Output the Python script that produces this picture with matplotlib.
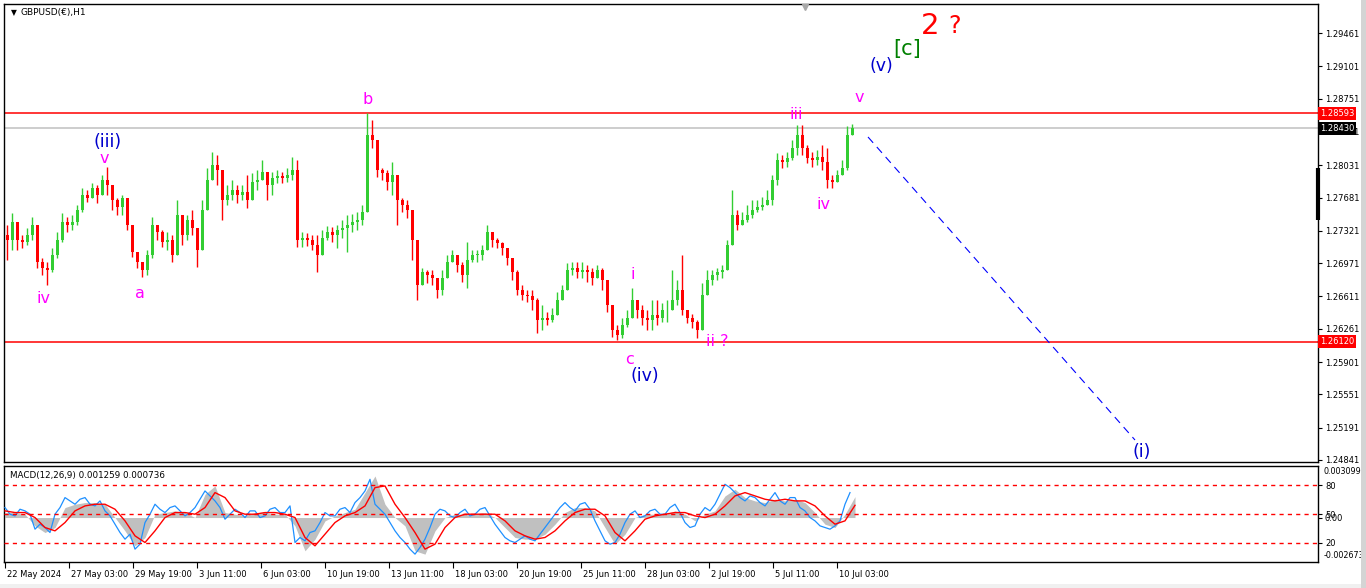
import matplotlib
matplotlib.use('Agg')
import matplotlib.pyplot as plt
import matplotlib.transforms as mtransforms
from matplotlib.patches import Rectangle
import numpy as np

plt.rcParams['font.family'] = ['DejaVu Sans']

W, H, DPI = 1366, 588, 100

# ---------------- data ----------------
symbol_title = "GBPUSD(€),H1"
first_open = 1.2728
close = [1.2722, 1.2742, 1.2722, 1.2720, 1.2728, 1.2738, 1.2698, 1.2692, 1.2690, 1.2706,
         1.2722, 1.2742, 1.2738, 1.2742, 1.2755, 1.2771, 1.2768, 1.2778, 1.2771, 1.2787,
         1.2782, 1.2765, 1.2758, 1.2768, 1.2738, 1.2709, 1.2698, 1.2690, 1.2706, 1.2738,
         1.2731, 1.2720, 1.2722, 1.2706, 1.2749, 1.2728, 1.2744, 1.2735, 1.2711, 1.2755,
         1.2787, 1.2803, 1.2798, 1.2765, 1.2771, 1.2776, 1.2771, 1.2774, 1.2765, 1.2785,
         1.2787, 1.2796, 1.2782, 1.2789, 1.2791, 1.2789, 1.2792, 1.2798, 1.2722, 1.2724,
         1.2722, 1.2717, 1.2706, 1.2724, 1.2731, 1.2728, 1.2733, 1.2735, 1.2738, 1.2742,
         1.2744, 1.2752, 1.2836, 1.2830, 1.2798, 1.2795, 1.2785, 1.2792, 1.2765, 1.2760,
         1.2755, 1.2722, 1.2673, 1.2687, 1.2684, 1.2681, 1.2668, 1.2681, 1.2698, 1.2706,
         1.2695, 1.2684, 1.2700, 1.2706, 1.2706, 1.2711, 1.2731, 1.2722, 1.2719, 1.2713,
         1.2703, 1.2687, 1.2668, 1.2663, 1.2662, 1.2657, 1.2636, 1.2638, 1.2636, 1.2641,
         1.2657, 1.2668, 1.2690, 1.2692, 1.2687, 1.2690, 1.2687, 1.2681, 1.2690, 1.2679,
         1.2652, 1.2625, 1.2619, 1.2630, 1.2638, 1.2657, 1.2646, 1.2638, 1.2636, 1.2641,
         1.2638, 1.2646, 1.2646, 1.2657, 1.2668, 1.2646, 1.2638, 1.2633, 1.2625, 1.2663,
         1.2679, 1.2684, 1.2687, 1.2690, 1.2717, 1.2749, 1.2738, 1.2744, 1.2749, 1.2755,
         1.2758, 1.2760, 1.2765, 1.2787, 1.2809, 1.2807, 1.2811, 1.2822, 1.2836, 1.2822,
         1.2811, 1.2809, 1.2812, 1.2807, 1.2787, 1.2785, 1.2792, 1.2800, 1.2836, 1.2843]
high = [1.2738, 1.2751, 1.2738, 1.2728, 1.2735, 1.2747, 1.2733, 1.2703, 1.2698, 1.2713,
        1.2731, 1.2751, 1.2747, 1.2749, 1.2760, 1.2778, 1.2776, 1.2784, 1.2782, 1.2792,
        1.2801, 1.2782, 1.2768, 1.2771, 1.2765, 1.2722, 1.2706, 1.2698, 1.2711, 1.2747,
        1.2738, 1.2733, 1.2731, 1.2728, 1.2765, 1.2749, 1.2749, 1.2755, 1.2735, 1.2765,
        1.2800, 1.2817, 1.2814, 1.2798, 1.2782, 1.2787, 1.2782, 1.2782, 1.2792, 1.2795,
        1.2798, 1.2809, 1.2792, 1.2796, 1.2798, 1.2796, 1.2800, 1.2812, 1.2809, 1.2731,
        1.2730, 1.2728, 1.2728, 1.2733, 1.2737, 1.2736, 1.2738, 1.2744, 1.2749, 1.2750,
        1.2752, 1.2760, 1.2860, 1.2852, 1.2827, 1.2800, 1.2798, 1.2807, 1.2782, 1.2768,
        1.2765, 1.2755, 1.2711, 1.2692, 1.2690, 1.2690, 1.2681, 1.2690, 1.2706, 1.2711,
        1.2706, 1.2698, 1.2720, 1.2711, 1.2711, 1.2717, 1.2738, 1.2731, 1.2724, 1.2720,
        1.2711, 1.2700, 1.2690, 1.2673, 1.2668, 1.2668, 1.2659, 1.2652, 1.2644, 1.2649,
        1.2666, 1.2673, 1.2697, 1.2698, 1.2698, 1.2698, 1.2695, 1.2692, 1.2695, 1.2692,
        1.2673, 1.2652, 1.2630, 1.2638, 1.2646, 1.2670, 1.2657, 1.2652, 1.2646, 1.2657,
        1.2657, 1.2654, 1.2657, 1.2690, 1.2679, 1.2706, 1.2646, 1.2642, 1.2636, 1.2676,
        1.2690, 1.2690, 1.2692, 1.2695, 1.2722, 1.2776, 1.2755, 1.2752, 1.2760, 1.2765,
        1.2765, 1.2769, 1.2776, 1.2792, 1.2816, 1.2814, 1.2817, 1.2830, 1.2847, 1.2847,
        1.2825, 1.2817, 1.2819, 1.2825, 1.2822, 1.2792, 1.2798, 1.2809, 1.2845, 1.2848]
low = [1.2700, 1.2711, 1.2711, 1.2713, 1.2717, 1.2722, 1.2692, 1.2684, 1.2673, 1.2687,
       1.2703, 1.2720, 1.2731, 1.2733, 1.2738, 1.2752, 1.2763, 1.2770, 1.2762, 1.2776,
       1.2771, 1.2755, 1.2749, 1.2749, 1.2733, 1.2704, 1.2692, 1.2682, 1.2684, 1.2703,
       1.2722, 1.2715, 1.2711, 1.2698, 1.2717, 1.2717, 1.2722, 1.2728, 1.2693, 1.2711,
       1.2771, 1.2792, 1.2782, 1.2744, 1.2760, 1.2765, 1.2762, 1.2765, 1.2757, 1.2771,
       1.2776, 1.2787, 1.2765, 1.2771, 1.2784, 1.2784, 1.2785, 1.2787, 1.2715, 1.2715,
       1.2716, 1.2711, 1.2687, 1.2711, 1.2722, 1.2720, 1.2713, 1.2724, 1.2709, 1.2731,
       1.2733, 1.2738, 1.2755, 1.2822, 1.2790, 1.2787, 1.2776, 1.2771, 1.2738, 1.2752,
       1.2746, 1.2700, 1.2657, 1.2673, 1.2676, 1.2673, 1.2659, 1.2663, 1.2684, 1.2698,
       1.2687, 1.2677, 1.2670, 1.2698, 1.2698, 1.2700, 1.2711, 1.2715, 1.2713, 1.2706,
       1.2695, 1.2679, 1.2663, 1.2657, 1.2655, 1.2646, 1.2622, 1.2625, 1.2630, 1.2633,
       1.2646, 1.2657, 1.2668, 1.2684, 1.2681, 1.2681, 1.2677, 1.2673, 1.2681, 1.2668,
       1.2644, 1.2617, 1.2614, 1.2616, 1.2628, 1.2641, 1.2638, 1.2630, 1.2625, 1.2625,
       1.2630, 1.2633, 1.2633, 1.2649, 1.2652, 1.2641, 1.2632, 1.2627, 1.2616, 1.2630,
       1.2663, 1.2673, 1.2679, 1.2681, 1.2690, 1.2717, 1.2733, 1.2738, 1.2742, 1.2746,
       1.2752, 1.2755, 1.2760, 1.2760, 1.2782, 1.2800, 1.2801, 1.2809, 1.2814, 1.2814,
       1.2805, 1.2801, 1.2803, 1.2798, 1.2778, 1.2778, 1.2785, 1.2792, 1.2798, 1.2838]
bars_per_candle = 5
first_candle_bar = 3

# MACD panel (values in units of 1e-3)
macd_first_bar = 1
macd_step = 10
macd_hist_e3 = [0.3, 0.3, 0.2, -0.5, -0.9, -0.6, 0.6, 0.8, 0.9, 0.9,
                0.8, 0.0, -0.8, -1.7, -1.2, 0.2, 0.3, 0.4, 0.3, 0.0,
                1.4, 1.9, 0.3, 0.2, 0.1, 0.3, 0.3, 0.2, 0.2, -0.5,
                -2.0, -1.3, -0.2, 0.1, 0.3, 0.5, 1.5, 2.5, 0.8, 0.0,
                -0.5, -2.0, -2.2, -0.8, 0.0, 0.2, 0.2, 0.2, 0.3, 0.0,
                -0.6, -1.2, -1.3, -1.3, -1.0, -0.4, 0.3, 0.6, 0.6, 0.4,
                -0.6, -1.6, -1.0, 0.0, 0.2, 0.2, 0.2, 0.4, 0.2, -0.2,
                0.2, 0.4, 1.3, 1.7, 1.2, 1.0, 0.9, 1.1, 1.0, 1.1,
                0.9, 0.3, -0.4, -0.6, 0.2, 1.259]
macd_signal_e3 = [0.4, 0.3, 0.3, 0.0, -0.6, -0.8, -0.3, 0.4, 0.7, 0.8,
                  0.8, 0.5, -0.2, -1.1, -1.5, -0.8, 0.0, 0.3, 0.3, 0.2,
                  0.6, 1.5, 1.2, 0.4, 0.2, 0.2, 0.3, 0.3, 0.2, 0.0,
                  -1.2, -1.7, -1.0, -0.3, 0.1, 0.3, 0.7, 1.8, 1.9, 0.8,
                  0.0, -0.9, -1.9, -1.6, -0.6, 0.0, 0.2, 0.2, 0.2, 0.2,
                  -0.2, -0.8, -1.1, -1.3, -1.2, -0.8, -0.2, 0.3, 0.5, 0.5,
                  0.1, -0.9, -1.4, -0.8, -0.1, 0.1, 0.2, 0.3, 0.3, 0.1,
                  0.0, 0.2, 0.7, 1.3, 1.5, 1.3, 1.1, 1.0, 1.1, 1.0,
                  1.0, 0.7, 0.1, -0.4, -0.2, 0.736]
macd_blue_first_bar = 1
macd_blue_step = 5
macd_blue_e3 = [0.6, 0.2, 0.1, 0.5, 0.4, 0.2, -0.7, -0.4, -0.6, -0.9,
                0.2, 0.6, 1.2, 1.0, 0.8, 1.1, 1.2, 0.8, 0.7, 1.0,
                0.4, 0.1, -0.4, -0.9, -1.3, -1.0, -1.9, -1.6, -0.3, 0.2,
                0.8, 0.5, 0.3, 0.6, 0.7, 0.4, 0.1, 0.3, 0.6, 1.1,
                1.6, 1.3, 1.0, 0.6, -0.1, 0.2, 0.5, 0.3, 0.0, 0.4,
                0.4, 0.0, 0.1, 0.5, 0.6, 0.3, 0.3, 0.7, -1.5, -1.2,
                -1.4, -0.9, -0.8, -0.3, 0.3, 0.1, 0.1, 0.5, 0.6, 0.3,
                0.9, 1.2, 1.6, 2.3, 0.8, 0.5, 0.2, -0.3, -0.8, -1.2,
                -1.5, -1.9, -2.2, -1.8, -1.3, -0.6, 0.2, 0.5, 0.4, 0.1,
                0.0, 0.3, 0.5, 0.1, 0.2, 0.5, 0.6, 0.1, -0.4, -0.8,
                -1.2, -1.4, -1.5, -1.3, -1.1, -1.3, -1.4, -1.0, -0.6, -0.2,
                0.2, 0.6, 0.9, 0.6, 0.4, 0.8, 0.9, 0.5, -0.2, -0.8,
                -1.4, -1.6, -1.5, -1.0, -0.3, 0.2, 0.4, 0.0, 0.1, 0.4,
                0.5, 0.2, 0.2, 0.6, 0.8, 0.3, -0.3, -0.6, -0.5, 0.2,
                0.6, 0.4, 0.8, 1.4, 2.0, 1.8, 1.5, 1.2, 1.0, 1.3,
                1.2, 0.9, 0.7, 1.1, 1.5, 1.0, 0.8, 1.2, 1.2, 0.6,
                0.4, 0.0, -0.2, -0.5, -0.6, -0.7, -0.5, -0.2, 0.8, 1.5]
macd_top = 0.003099
macd_bottom = -0.002673
macd_levels = [80, 50, 20]
macd_title = "MACD(12,26,9) 0.001259 0.000736"

# axes
x_labels = ["22 May 2024", "27 May 03:00", "29 May 19:00", "3 Jun 11:00", "6 Jun 03:00",
            "10 Jun 19:00", "13 Jun 11:00", "18 Jun 03:00", "20 Jun 19:00", "25 Jun 11:00",
            "28 Jun 03:00", "2 Jul 19:00", "5 Jul 11:00", "10 Jul 03:00"]
first_label_bar = 1
bars_between_labels = 64
price_ticks = [1.29461, 1.29101, 1.28751, 1.28391, 1.28031, 1.27681, 1.27321, 1.26971,
               1.26611, 1.26261, 1.25901, 1.25551, 1.25191, 1.24841]
price_min, price_max = 1.24819, 1.29775
bars_visible = 1314

resistance = 1.28593
bid = 1.28430
support = 1.26120

projection_bars = [864, 1131]
projection_prices = [1.28336, 1.25057]

# wave labels: text, bar, price, color, fontsize
MAG, BLU, GRN, RED = '#ff00ff', '#0000cd', '#008000', '#ff0000'
wave_labels = [
    ("(iii)", 104, 1.28282, BLU, 12.5),
    ("v", 100, 1.28108, MAG, 11.5),
    ("iv", 39, 1.26583, MAG, 11.5),
    ("a", 136, 1.26637, MAG, 11.5),
    ("b", 364, 1.28747, MAG, 11.5),
    ("c", 625, 1.25923, MAG, 11.5),
    ("(iv)", 641, 1.25750, BLU, 12.5),
    ("i", 629, 1.26853, MAG, 11.5),
    ("ii ?", 713, 1.26128, MAG, 11.5),
    ("iii", 792, 1.28574, MAG, 11.5),
    ("iv", 819, 1.27600, MAG, 11.5),
    ("v", 855, 1.28758, MAG, 11.5),
    ("(v)", 877, 1.29104, BLU, 12.5),
    ("[c]", 903, 1.29288, GRN, 15),
    ("2", 926, 1.29537, RED, 21),
    ("?", 951, 1.29537, RED, 17),
    ("(i)", 1138, 1.24927, BLU, 12.5),
]

# ---------------- figure ----------------
fig = plt.figure(figsize=(W / DPI, H / DPI), dpi=DPI, facecolor='white')

def fx(px):
    return px / W

def fy(py):
    return 1 - py / H

fig.patches.append(Rectangle((0, 0), 1, fy(584), transform=fig.transFigure,
                             facecolor='#f0f0f0', edgecolor='none', zorder=0))
fig.patches.append(Rectangle((fx(1361), 0), fx(5), 1, transform=fig.transFigure,
                             facecolor='#d4d4d4', edgecolor='none', zorder=0))

TICK_FS = 6.0
left, right = 4, 1318
ax = fig.add_axes([fx(left), fy(462), fx(right - left), (462 - 4) / H])
axm = fig.add_axes([fx(left), fy(562), fx(right - left), (562 - 466) / H])

for a in (ax, axm):
    a.set_facecolor('white')
    for s in a.spines.values():
        s.set_color('black')
        s.set_linewidth(1.0)
    a.set_xlim(0, bars_visible)

# ---- candles ----
opens = [first_open] + close[:-1]
n = len(close)
xs = [first_candle_bar + bars_per_candle * i for i in range(n)]
UP, DN = '#32cd32', '#ff0000'
colors = [UP if c >= o else DN for o, c in zip(opens, close)]
lows = [min(l, o, c) for l, o, c in zip(low, opens, close)]
highs = [max(h, o, c) for h, o, c in zip(high, opens, close)]
ax.vlines(xs, lows, highs, colors=colors, lw=1.0, zorder=3)
bottoms = [min(o, c) for o, c in zip(opens, close)]
heights = [max(abs(c - o), 0.00006) for o, c in zip(opens, close)]
ax.bar(xs, heights, bottom=bottoms, width=3.0, color=colors, lw=0, zorder=3)

# ---- horizontal levels ----
ax.axhline(resistance, color='#ff0000', lw=1.1, zorder=2)
ax.axhline(bid, color='#c0c0c0', lw=1.1, zorder=2)
ax.axhline(support, color='#ff0000', lw=1.1, zorder=2)

ax.plot(projection_bars, projection_prices, color='#0000ff', lw=0.8,
        linestyle=(0, (7, 5)), zorder=4)

for t, b, p, c, fs in wave_labels:
    ax.text(b, p, t, color=c, fontsize=fs, ha='center', va='center', zorder=6)

ax.set_ylim(price_min, price_max)
ax.set_xticks([])
ax.yaxis.tick_right()
ax.set_yticks(price_ticks)
ax.set_yticklabels([f"{v:.5f}" for v in price_ticks])
ax.tick_params(axis='y', which='both', direction='out', length=3, width=0.8,
               labelsize=TICK_FS, pad=2, colors='black')

trans = mtransforms.blended_transform_factory(ax.transAxes, ax.transData)
for val, fc in ((resistance, '#ff0000'), (bid, '#000000'), (support, '#ff0000')):
    ax.text(1.0015, val, f"{val:.5f}", transform=trans, color='white', fontsize=TICK_FS,
            ha='left', va='center', zorder=20, clip_on=False,
            bbox=dict(boxstyle='square,pad=0.25', facecolor=fc, edgecolor='none'))

ax.plot([1.0, 1.0], [1.28000, 1.27438], transform=trans, color='black', lw=3,
        solid_capstyle='butt', clip_on=False, zorder=21)

ax.plot([801], [0.993], marker='v', markersize=5, color='#a8a8a8',
        transform=mtransforms.blended_transform_factory(ax.transData, ax.transAxes),
        clip_on=False, zorder=7)

ax.text(0.0055, 0.981, "▼", transform=ax.transAxes, fontsize=5.5, ha='left', va='center',
        color='black')
ax.text(0.0125, 0.981, symbol_title, transform=ax.transAxes, fontsize=6.5, ha='left',
        va='center', color='black')

# ---- MACD panel ----
mx = [macd_first_bar + macd_step * i for i in range(len(macd_hist_e3))]
bx = [macd_blue_first_bar + macd_blue_step * i for i in range(len(macd_blue_e3))]
hist = [v * 1e-3 for v in macd_hist_e3]
sig = [v * 1e-3 for v in macd_signal_e3]
blue = [v * 1e-3 for v in macd_blue_e3]
axm.fill_between(mx, 0, hist, color='#c0c0c0', lw=0, zorder=2)
axm.plot(bx, blue, color='#1e90ff', lw=0.9, zorder=3)
axm.plot(mx, sig, color='#ff0000', lw=1.0, zorder=4)
axm.set_ylim(macd_bottom, macd_top)

axl = axm.twinx()
axl.set_ylim(0, 100)
axl.set_xlim(0, bars_visible)
for lv in macd_levels:
    axl.axhline(lv, color='#ff0000', lw=1.0, linestyle=(0, (3, 3)), zorder=1)
axl.set_yticks(macd_levels)
axl.set_yticklabels([str(v) for v in macd_levels])
axl.tick_params(axis='y', direction='out', length=3, width=0.8, labelsize=TICK_FS, pad=2)
for s in axl.spines.values():
    s.set_visible(False)
axl.patch.set_visible(False)

axm.yaxis.tick_right()
axm.set_yticks([0.0])
axm.set_yticklabels(["0.00"])
axm.tick_params(axis='y', direction='out', length=3, width=0.8, labelsize=TICK_FS, pad=2)

axm.text(1.004, 0.985, f"{macd_top:.6f}", transform=axm.transAxes, fontsize=5.8,
         ha='left', va='top', clip_on=False)
axm.text(1.004, 0.02, f"{macd_bottom:.6f}", transform=axm.transAxes, fontsize=5.8,
         ha='left', va='bottom', clip_on=False)
axm.text(0.0045, 0.905, macd_title, transform=axm.transAxes, fontsize=6.3,
         ha='left', va='center', color='black', zorder=10)

xt = [first_label_bar + bars_between_labels * i for i in range(len(x_labels))]
axm.set_xticks(xt)
axm.set_xticklabels(x_labels, ha='left')
axm.tick_params(axis='x', direction='out', length=4, width=0.8, labelsize=TICK_FS, pad=2)
for lbl in axm.get_xticklabels():
    lbl.set_transform(lbl.get_transform() + mtransforms.ScaledTranslation(2 / DPI, 0, fig.dpi_scale_trans))

fig.savefig('out.png', dpi=DPI, facecolor=fig.get_facecolor())
